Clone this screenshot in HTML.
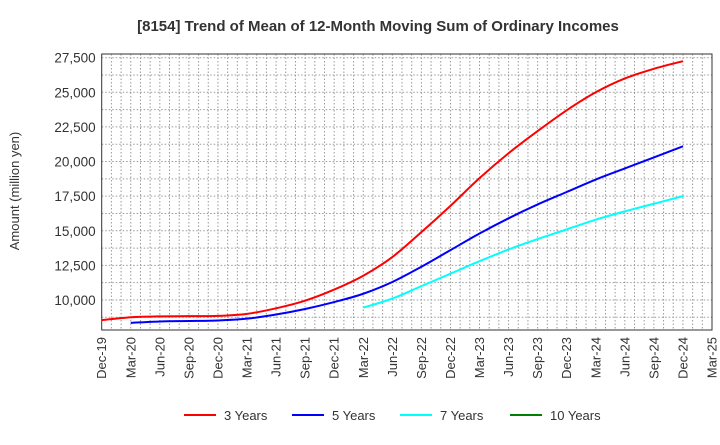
<!DOCTYPE html>
<html><head><meta charset="utf-8"><style>
body{margin:0;background:#fff;font-family:"Liberation Sans",sans-serif}
</style></head><body>
<svg id="c" width="720" height="440" xmlns="http://www.w3.org/2000/svg">
<text x="378" y="31" text-anchor="middle" font-size="15" font-weight="bold" fill="#333">[8154]  Trend of Mean of 12-Month Moving Sum of Ordinary Incomes</text>
<text transform="translate(19,191) rotate(-90)" text-anchor="middle" font-size="13" fill="#333">Amount (million yen)</text>
<g id="grid"></g><g id="axes"></g><g id="series"></g><g id="legend"></g>
</svg>
<script>
const xLabels=["Dec-19","Mar-20","Jun-20","Sep-20","Dec-20","Mar-21","Jun-21","Sep-21","Dec-21","Mar-22","Jun-22","Sep-22","Dec-22","Mar-23","Jun-23","Sep-23","Dec-23","Mar-24","Jun-24","Sep-24","Dec-24","Mar-25"];
const yTicks=[10000,12500,15000,17500,20000,22500,25000,27500];
const s3=[8550,8750,8820,8830,8850,9000,9400,9950,10750,11750,13100,14900,16800,18800,20600,22200,23700,25000,26000,26700,27250];
const s5=[null,8350,8450,8480,8520,8650,8950,9350,9850,10450,11300,12400,13600,14800,15900,16900,17800,18700,19500,20300,21100];
const s7=[null,null,null,null,null,null,null,null,null,9450,10100,11000,11900,12800,13650,14400,15100,15800,16400,16950,17500];
const s10=[];
const seriesNames=["3 Years","5 Years","7 Years","10 Years"];
const colors=["#ff0000","#0000ff","#00ffff","#008000"];
const L=101.7,R=712,T=54,B=330,yMin=7832,yMax=27767;
const NS="http://www.w3.org/2000/svg";
const X=i=>L+(R-L)*i/(xLabels.length-1);
const Y=v=>B-(B-T)*(v-yMin)/(yMax-yMin);
function mk(t,a,p){const e=document.createElementNS(NS,t);for(const k in a)e.setAttribute(k,a[k]);p.appendChild(e);return e;}
const grid=document.getElementById('grid'),axes=document.getElementById('axes');
for(let m=1;m<(xLabels.length-1)*3;m++){const x=L+(R-L)*m/((xLabels.length-1)*3);
const g=mk('line',{x1:x,x2:x,y1:T,y2:B,stroke:'#999','stroke-dasharray':'1.5,2','stroke-width':1},grid);
}
for(let v=8750;v<yMax;v+=1250){const y=Y(v);
const g=mk('line',{x1:L,x2:R,y1:y,y2:y,stroke:'#999','stroke-dasharray':'1.5,2','stroke-width':1},grid);
}
const fr=mk('rect',{x:L,y:T,width:R-L,height:B-T,fill:'none',stroke:'#333','stroke-width':1},axes);

yTicks.forEach(v=>{const t=mk('text',{x:L-6,y:Y(v)+5,'text-anchor':'end','font-size':13.5,fill:'#333'},axes);t.textContent=v.toLocaleString('en-US');
});
xLabels.forEach((s,i)=>{const x=X(i);const t=mk('text',{transform:`translate(${x+4.5},${B+7}) rotate(-90)`,'text-anchor':'end','font-size':13,fill:'#333'},axes);t.textContent=s;
});
const ser=document.getElementById('series');
[s3,s5,s7,s10].forEach((arr,k)=>{const pts=[];arr.forEach((v,i)=>{if(v!=null)pts.push([X(i),Y(v)]);});
if(pts.length<2)return;let d=`M${pts[0][0]},${pts[0][1]}`;
for(let i=0;i<pts.length-1;i++){const p0=pts[i-1]||pts[i],p1=pts[i],p2=pts[i+1],p3=pts[i+2]||p2;
d+=` C${p1[0]+(p2[0]-p0[0])/6},${p1[1]+(p2[1]-p0[1])/6} ${p2[0]-(p3[0]-p1[0])/6},${p2[1]-(p3[1]-p1[1])/6} ${p2[0]},${p2[1]}`;}
const p=mk('path',{d:d,fill:'none',stroke:colors[k],'stroke-width':2},ser);
});
const lg=document.getElementById('legend');const lx=[184,292,400,510];
seriesNames.forEach((n,k)=>{const g=mk('g',{},lg);
mk('line',{x1:lx[k],x2:lx[k]+32,y1:415,y2:415,stroke:colors[k],'stroke-width':2},g);
const t=mk('text',{x:lx[k]+40,y:420,'font-size':13,fill:'#333'},g);t.textContent=n;});
</script>
</body></html>
